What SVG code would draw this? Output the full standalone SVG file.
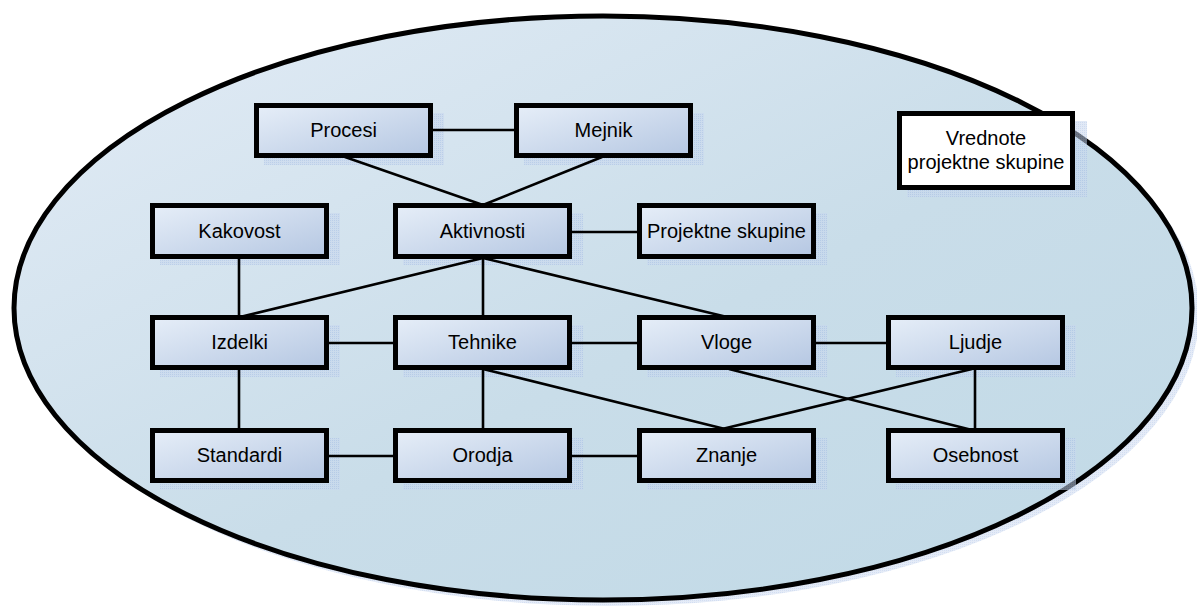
<svg xmlns="http://www.w3.org/2000/svg" width="1197" height="607" viewBox="0 0 1197 607">
  <defs>
    <linearGradient id="bgFill" x1="0" y1="0" x2="1" y2="1">
      <stop offset="0" stop-color="#e3ecf6"/>
      <stop offset="0.55" stop-color="#c9dde9"/>
      <stop offset="1" stop-color="#c0d9e6"/>
    </linearGradient>
    <linearGradient id="boxFill" x1="0" y1="0" x2="1" y2="1">
      <stop offset="0" stop-color="#e6eef8"/>
      <stop offset="1" stop-color="#b5c7e2"/>
    </linearGradient>
    <pattern id="dither" width="2" height="2" patternUnits="userSpaceOnUse">
      <rect width="2" height="2" fill="#c8d7ee"/>
      <rect width="1" height="1" fill="#a6bde4"/>
    </pattern>
    <style>
      .shadow { fill: url(#dither); opacity: 0.55; }
      .box { fill: url(#boxFill); stroke: #000; stroke-width: 5; }
      .plain { fill: #fff; stroke: #000; stroke-width: 5; }
      .lbl { font-family: "Liberation Sans", Arial, sans-serif; font-size: 20px; fill: #000; text-anchor: middle; }
      .links line { stroke: #000; stroke-width: 2.6; }
    </style>
  </defs>

  <!-- outer boundary -->
  <g id="boundary">
    <ellipse cx="609" cy="314" rx="590" ry="292" fill="url(#dither)" opacity="0.5"/>
    <ellipse cx="603" cy="308" rx="589" ry="292" fill="url(#bgFill)" stroke="#000" stroke-width="5"/>
  </g>

  <!-- box shadows -->
  <g id="shadows">
    <rect class="shadow" x="264" y="113" width="180" height="52"/>
    <rect class="shadow" x="524" y="113" width="180" height="52"/>
    <rect class="shadow" x="160" y="213" width="180" height="52"/>
    <rect class="shadow" x="403" y="213" width="180" height="52"/>
    <rect class="shadow" x="647" y="213" width="180" height="52"/>
    <rect class="shadow" x="907" y="121" width="180" height="76"/>
    <rect class="shadow" x="160" y="325" width="180" height="52"/>
    <rect class="shadow" x="403" y="325" width="180" height="52"/>
    <rect class="shadow" x="647" y="325" width="180" height="52"/>
    <rect class="shadow" x="896" y="325" width="180" height="52"/>
    <rect class="shadow" x="160" y="438" width="180" height="52"/>
    <rect class="shadow" x="403" y="438" width="180" height="52"/>
    <rect class="shadow" x="647" y="438" width="180" height="52"/>
    <rect class="shadow" x="896" y="438" width="180" height="52"/>
  </g>

  <!-- connectors -->
  <g id="connectors" class="links">
    <line x1="433" y1="130" x2="516" y2="130"/>
    <line x1="345" y1="157" x2="483" y2="205"/>
    <line x1="602" y1="157" x2="483" y2="205"/>
    <line x1="572" y1="232" x2="639" y2="232"/>
    <line x1="239" y1="258" x2="239" y2="317"/>
    <line x1="483" y1="258" x2="240" y2="317"/>
    <line x1="483" y1="258" x2="483" y2="317"/>
    <line x1="483" y1="258" x2="727" y2="317"/>
    <line x1="328" y1="343" x2="395" y2="343"/>
    <line x1="572" y1="343" x2="639" y2="343"/>
    <line x1="815" y1="343" x2="888" y2="343"/>
    <line x1="239" y1="369" x2="239" y2="430"/>
    <line x1="328" y1="456" x2="395" y2="456"/>
    <line x1="572" y1="456" x2="639" y2="456"/>
    <line x1="483" y1="369" x2="483" y2="430"/>
    <line x1="483" y1="369" x2="729" y2="430"/>
    <line x1="972" y1="369" x2="718" y2="430"/>
    <line x1="729" y1="369" x2="972" y2="430"/>
    <line x1="975" y1="369" x2="975" y2="430"/>
  </g>

  <!-- nodes -->
  <g id="procesi"><rect class="box" x="256.5" y="105.5" width="174" height="50"/><text class="lbl" x="343.5" y="137">Procesi</text></g>
  <g id="mejnik"><rect class="box" x="516.5" y="105.5" width="174" height="50"/><text class="lbl" x="603.5" y="137">Mejnik</text></g>
  <g id="kakovost"><rect class="box" x="152.5" y="205.5" width="174" height="51"/><text class="lbl" x="239.5" y="238">Kakovost</text></g>
  <g id="aktivnosti"><rect class="box" x="395.5" y="205.5" width="174" height="51"/><text class="lbl" x="482.5" y="238">Aktivnosti</text></g>
  <g id="projektne-skupine"><rect class="box" x="639.5" y="205.5" width="174" height="51"/><text class="lbl" x="726.5" y="238">Projektne skupine</text></g>
  <g id="vrednote"><rect class="plain" x="899.5" y="113.5" width="173" height="74"/><text class="lbl" x="986" y="145">Vrednote</text><text class="lbl" x="986" y="169">projektne skupine</text></g>
  <g id="izdelki"><rect class="box" x="152.5" y="317.5" width="174" height="50"/><text class="lbl" x="239.5" y="349">Izdelki</text></g>
  <g id="tehnike"><rect class="box" x="395.5" y="317.5" width="174" height="50"/><text class="lbl" x="482.5" y="349">Tehnike</text></g>
  <g id="vloge"><rect class="box" x="639.5" y="317.5" width="174" height="50"/><text class="lbl" x="726.5" y="349">Vloge</text></g>
  <g id="ljudje"><rect class="box" x="888.5" y="317.5" width="174" height="50"/><text class="lbl" x="975.5" y="349">Ljudje</text></g>
  <g id="standardi"><rect class="box" x="152.5" y="430.5" width="174" height="50"/><text class="lbl" x="239.5" y="462">Standardi</text></g>
  <g id="orodja"><rect class="box" x="395.5" y="430.5" width="174" height="50"/><text class="lbl" x="482.5" y="462">Orodja</text></g>
  <g id="znanje"><rect class="box" x="639.5" y="430.5" width="174" height="50"/><text class="lbl" x="726.5" y="462">Znanje</text></g>
  <g id="osebnost"><rect class="box" x="888.5" y="430.5" width="174" height="50"/><text class="lbl" x="975.5" y="462">Osebnost</text></g>
</svg>
